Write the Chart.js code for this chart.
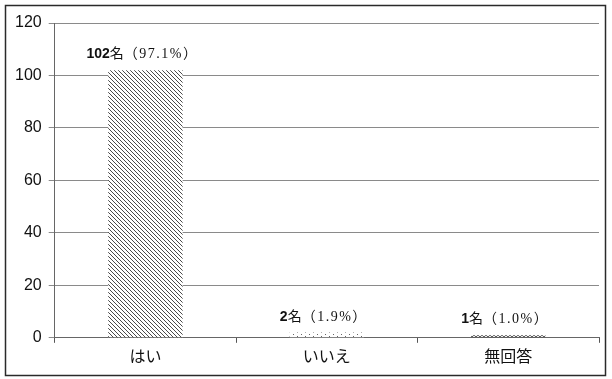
<!DOCTYPE html>
<html>
<head>
<meta charset="utf-8">
<script src="https://cdn.jsdelivr.net/npm/chart.js@4"></script>
<style>
  html, body { margin: 0; padding: 0; background: #fff; }
  #wrap { width: 612px; height: 379px; }
</style>
</head>
<body>
<div id="wrap"><canvas id="c" width="612" height="379"></canvas></div>
<script>
// Survey answers: number of respondents and share
const categories = ['はい', 'いいえ', '無回答'];
const counts = [102, 2, 1];
const percents = ['97.1', '1.9', '1.0'];
const yTicks = [0, 20, 40, 60, 80, 100, 120];

// Monochrome fill patterns for each bar
function hatchPattern(ctx) {
  const t = document.createElement('canvas');
  t.width = 4; t.height = 4;
  const g = t.getContext('2d');
  g.fillStyle = '#fff'; g.fillRect(0, 0, 4, 4);
  g.strokeStyle = '#4a4a4a'; g.lineWidth = 1;
  g.beginPath();
  g.moveTo(-1, -1); g.lineTo(5, 5);
  g.moveTo(-1, 3); g.lineTo(1, 5);
  g.moveTo(3, -1); g.lineTo(5, 1);
  g.stroke();
  return ctx.createPattern(t, 'repeat');
}
function dotPattern(ctx) {
  const t = document.createElement('canvas');
  t.width = 8; t.height = 4;
  const g = t.getContext('2d');
  g.fillStyle = '#fff'; g.fillRect(0, 0, 8, 4);
  g.fillStyle = '#666';
  g.fillRect(1, 0, 1, 1);
  g.fillRect(5, 2, 1, 1);
  return ctx.createPattern(t, 'repeat');
}
function zigPattern(ctx) {
  const t = document.createElement('canvas');
  t.width = 4; t.height = 3;
  const g = t.getContext('2d');
  g.fillStyle = '#fff'; g.fillRect(0, 0, 4, 3);
  g.strokeStyle = '#222'; g.lineWidth = 1.2;
  g.beginPath();
  g.moveTo(0, 0.5); g.lineTo(2, 2.5); g.lineTo(4, 0.5);
  g.stroke();
  return ctx.createPattern(t, 'repeat');
}

const canvas = document.getElementById('c');
const ctx = canvas.getContext('2d');
const fills = [hatchPattern(ctx), dotPattern(ctx), zigPattern(ctx)];

// White page with a thin frame round the whole chart
const framePlugin = {
  id: 'frame',
  beforeDraw(chart) {
    const c = chart.ctx;
    c.save();
    c.fillStyle = '#fff';
    c.fillRect(0, 0, chart.width, chart.height);
    c.strokeStyle = '#2a2a2a';
    c.lineWidth = 1.5;
    c.strokeRect(5.5, 5.5, 600, 370);
    c.restore();
  }
};

// Value labels above bars: bold count, then "名（xx.x%）"
const valueLabelPlugin = {
  id: 'valueLabels',
  afterDatasetsDraw(chart) {
    const c = chart.ctx;
    const meta = chart.getDatasetMeta(0);
    meta.data.forEach((bar, i) => {
      const parts = [
        { text: String(counts[i]), font: 'bold 14px "Liberation Sans", Arial, sans-serif', ls: '0px' },
        { text: '名', font: '14px "Noto Sans CJK JP", sans-serif', ls: '0px' },
        { text: '（' + percents[i] + '%）', font: '14px "Liberation Serif", "Noto Sans CJK JP", serif', ls: '1.5px' }
      ];
      c.save();
      let total = 0;
      parts.forEach(p => { c.font = p.font; c.letterSpacing = p.ls; p.w = c.measureText(p.text).width; total += p.w; });
      let x = bar.x - total / 2 - 3;
      const y = bar.y - 12;
      c.fillStyle = '#111';
      c.textBaseline = 'alphabetic';
      c.textAlign = 'left';
      parts.forEach(p => { c.font = p.font; c.letterSpacing = p.ls; c.fillText(p.text, x, y); x += p.w; });
      c.restore();
    });
  }
};

new Chart(canvas, {
  type: 'bar',
  data: {
    labels: categories,
    datasets: [{
      data: counts,
      backgroundColor: fills,
      borderWidth: 0,
      categoryPercentage: 1,
      barPercentage: 0.41
    }]
  },
  options: {
    responsive: false,
    animation: false,
    events: [],
    layout: { padding: { top: 23, right: 13, bottom: 9, left: 8 } },
    plugins: { legend: { display: false }, tooltip: { enabled: false } },
    scales: {
      x: {
        offset: true,
        grid: { display: true, drawOnChartArea: false, drawTicks: true, tickLength: 5, color: '#555', offset: true },
        border: { display: true, color: '#666', width: 1 },
        ticks: { color: '#111', font: { size: 16, family: '"Noto Sans CJK JP", sans-serif' }, padding: 4 }
      },
      y: {
        min: 0, max: 120,
        afterBuildTicks(scale) { scale.ticks = yTicks.map(v => ({ value: v })); },
        grid: { color: '#8a8a8a', lineWidth: 1, drawTicks: true, tickLength: 6 },
        border: { display: true, color: '#666', width: 1 },
        ticks: { color: '#111', font: { size: 16, family: '"Liberation Sans", Arial, sans-serif' }, padding: 7 }
      }
    }
  },
  plugins: [framePlugin, valueLabelPlugin]
});
</script>
</body>
</html>
